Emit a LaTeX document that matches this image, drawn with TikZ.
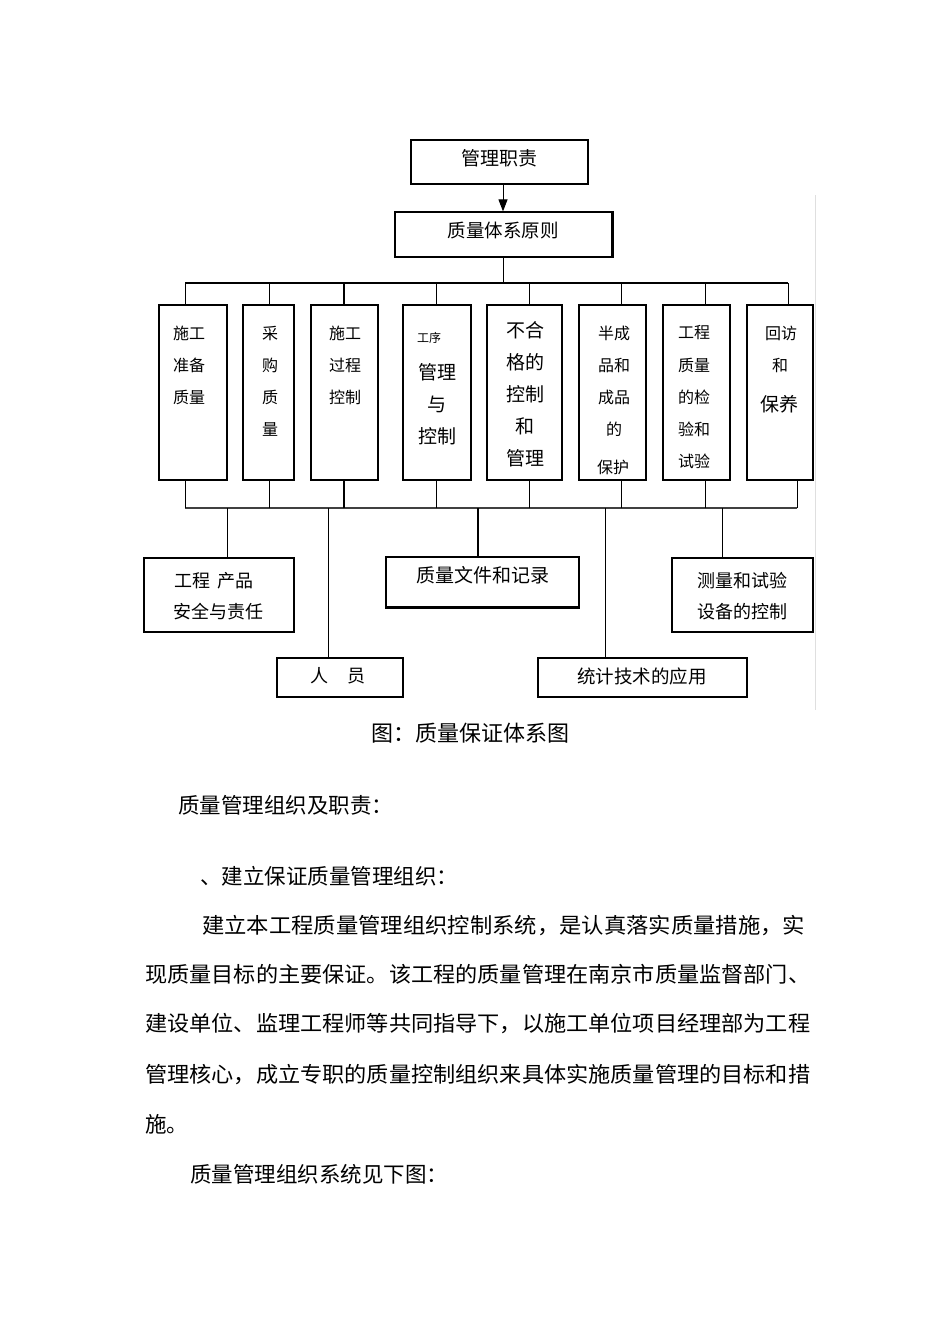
\documentclass[tikz,border=0pt]{standalone}
\usepackage{fontspec}
\usepackage{graphicx}
\setmainfont{Noto Sans CJK SC}
\usetikzlibrary{arrows.meta}
\newcommand{\fsz}[1]{\fontsize{#1}{#1}\selectfont}
\newcommand{\jline}[2]{\resizebox{#1}{\height}{#2}}
\tikzset{
  box/.style={draw, line width=1.2pt, inner sep=0pt, rectangle},
  lbl/.style={inner sep=0pt, anchor=center},
  thin/.style={line width=1pt},
  thick2/.style={line width=2.6pt},
  body/.style={inner sep=0pt, anchor=west, font=\fsz{21.5}},
}
\begin{document}
\begin{tikzpicture}[x=1pt,y=-1pt]
\useasboundingbox (0,0) rectangle (950,1344);
\fill[white] (0,0) rectangle (950,1344);

% faint right edge line
\coordinate (e1) at (815,195);
\coordinate (e2) at (815,710);
\draw[gray!25, line width=0.8pt] (e1) -- (e2);

% top boxes
\node[box, minimum width=177pt, minimum height=44pt] (top) at (499.5,162) {};
\node[lbl, font=\fsz{19}] (topt) at (499.5,158) {管理职责};
\node[box, minimum width=217pt, minimum height=45pt] (sys) at (503.5,234.5) {};
\draw[line width=2pt] (sys.north east) -- (sys.south east);
\node[lbl, font=\fsz{18.5}] (syst) at (503,231) {质量体系原则};

% top bar
\coordinate (tb) at (503,283);
\coordinate (tbl) at (185,283);
\coordinate (tbr) at (788,283);
\draw[thin, -{Triangle[length=12pt,width=9pt]}] (top.south -| tb) -- (sys.north -| tb);
\draw[thin] (sys.south -| tb) -- (tb);
\draw[line width=2.6pt] (tbl) -- (tbr);

% column boxes
\node[box, minimum width=68pt, minimum height=175pt] (c1) at (193,392.5) {};
\node[box, minimum width=51pt, minimum height=175pt] (c2) at (268.5,392.5) {};
\node[box, minimum width=67pt, minimum height=175pt] (c3) at (344.5,392.5) {};
\node[box, minimum width=68pt, minimum height=175pt] (c4) at (437,392.5) {};
\node[box, minimum width=75pt, minimum height=175pt] (c5) at (524.5,392.5) {};
\node[box, minimum width=67pt, minimum height=175pt] (c6) at (612.5,392.5) {};
\node[box, minimum width=67pt, minimum height=175pt] (c7) at (696.5,392.5) {};
\node[box, line width=2pt, minimum width=66pt, minimum height=175pt] (c8) at (780,392.5) {};

% column texts
\foreach \t [count=\i] in {施工,准备,质量}
  \node[lbl, font=\fsz{16}] (c1t\i) at (189,333+32*\i-32) {\t};
\foreach \t [count=\i] in {采,购,质,量}
  \node[lbl, font=\fsz{16}] (c2t\i) at (270,333+32*\i-32) {\t};
\foreach \t [count=\i] in {施工,过程,控制}
  \node[lbl, font=\fsz{16}] (c3t\i) at (345,333+32*\i-32) {\t};
\node[lbl, font=\fsz{12}] (c4t0) at (429,338) {工序};
\foreach \t [count=\i] in {管理,与,控制}
  \node[lbl, font=\fsz{19}] (c4t\i) at (437,372+32*\i-32) {\t};
\foreach \t [count=\i] in {不合,格的,控制,和,管理}
  \node[lbl, font=\fsz{19}] (c5t\i) at (525,330+32*\i-32) {\t};
\foreach \t [count=\i] in {半成,品和,成品,的}
  \node[lbl, font=\fsz{16}] (c6t\i) at (614,333+32*\i-32) {\t};
\node[lbl, font=\fsz{16}] (c6t5) at (613,467) {保护};
\foreach \t [count=\i] in {工程,质量,的检,验和,试验}
  \node[lbl, font=\fsz{16}] (c7t\i) at (694,333+32*\i-32) {\t};
\node[lbl, font=\fsz{16}] (c8t1) at (781,333) {回访};
\node[lbl, font=\fsz{16}] (c8t2) at (780,365) {和};
\node[lbl, font=\fsz{19}] (c8t3) at (779,404) {保养};

% connectors top bar -> columns
\foreach \x/\c in {185/c1,269/c2,436/c4,529/c5,621/c6,705/c7,788/c8}{
  \coordinate (u\c) at (\x,283);
  \draw[thin] (u\c) -- (u\c |- \c.north);
}
\coordinate (uc3) at (344,283);
\draw[thick2] (uc3) -- (uc3 |- c3.north);

% bottom bar
\coordinate (bb) at (185,508);
\coordinate (bbr) at (797,508);
\draw[line width=2pt, black!75] (bb) -- (bbr);
\foreach \x/\c in {185/c1,269/c2,436/c4,529/c5,621/c6,705/c7,797/c8}{
  \coordinate (d\c) at (\x,508);
  \draw[thin] (d\c) -- (d\c |- \c.south);
}
\coordinate (dc3) at (344,508);
\draw[thick2] (dc3) -- (dc3 |- c3.south);

% bottom boxes
\node[box, minimum width=150pt, minimum height=74pt] (b1) at (219,595) {};
\node[lbl, font=\fsz{18}] (b1t1) at (214,581) {工程\hspace{0.4em}产品};
\node[lbl, font=\fsz{18}] (b1t2) at (218,612) {安全与责任};

\node[box, minimum width=126pt, minimum height=39pt] (b2) at (340,677.5) {};
\node[lbl, font=\fsz{18}] (b2t) at (338,676) {人\hspace{1.1em}员};

\node[box, minimum width=193pt, minimum height=50pt] (b3) at (482.5,582) {};
\draw[line width=2.2pt] (b3.south west) -- (b3.south east);
\node[lbl, font=\fsz{19}] (b3t) at (483,575) {质量文件和记录};

\node[box, minimum width=209pt, minimum height=39pt] (b4) at (642.5,677.5) {};
\node[lbl, font=\fsz{18.5}] (b4t) at (642,676) {统计技术的应用};

\node[box, minimum width=141pt, minimum height=74pt] (b5) at (742.5,595) {};
\node[lbl, font=\fsz{18}] (b5t1) at (742,581) {测量和试验};
\node[lbl, font=\fsz{18}] (b5t2) at (742,612) {设备的控制};

% connectors bottom bar -> bottom boxes
\coordinate (v1) at (227,508);
\coordinate (v2) at (328,508);
\coordinate (v3) at (478,508);
\coordinate (v4) at (605,508);
\coordinate (v5) at (722,508);
\draw[thin] (v1) -- (v1 |- b1.north);
\draw[thin] (v2) -- (v2 |- b2.north);
\draw[thick2] (v3) -- (v3 |- b3.north);
\draw[thin] (v4) -- (v4 |- b4.north);
\draw[thin] (v5) -- (v5 |- b5.north);

% caption and body text
\node[body, font=\fsz{22}] (cap) at (371,733) {图：质量保证体系图};
\node[body] (h1) at (178,805) {质量管理组织及职责：};
\node[body] (h2) at (200,876) {、建立保证质量管理组织：};
\node[body] (p1) at (202,926) {\jline{603pt}{建立本工程质量管理组织控制系统，是认真落实质量措施，实}};
\node[body] (p2) at (145,974) {\jline{665pt}{现质量目标的主要保证。该工程的质量管理在南京市质量监督部门、}};
\node[body] (p3) at (145,1024) {\jline{665pt}{建设单位、监理工程师等共同指导下，以施工单位项目经理部为工程}};
\node[body] (p4) at (145,1075) {\jline{665pt}{管理核心，成立专职的质量控制组织来具体实施质量管理的目标和措}};
\node[body] (p5) at (145,1124) {施。};
\node[body] (h3) at (190,1174) {质量管理组织系统见下图：};
\end{tikzpicture}
\end{document}
